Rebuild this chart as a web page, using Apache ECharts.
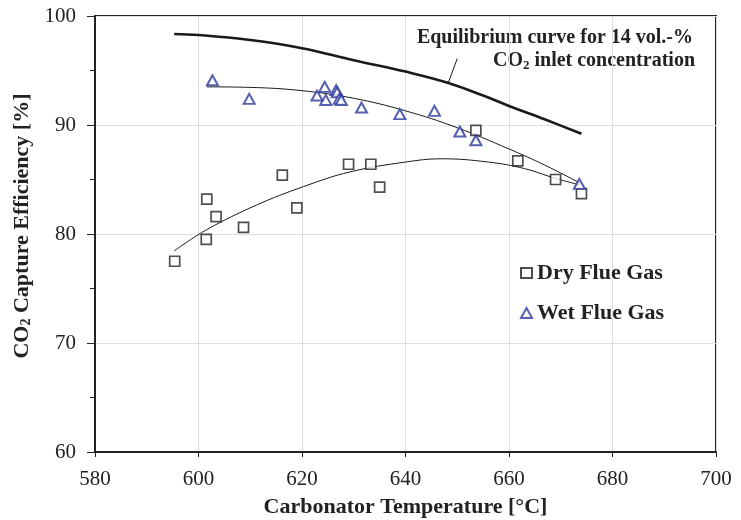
<!DOCTYPE html>
<html>
<head>
<meta charset="utf-8">
<script src="https://cdn.jsdelivr.net/npm/echarts@6/dist/echarts.min.js"></script>
<style>
  html, body { margin: 0; padding: 0; background: #fff; }
  #chart { width: 741px; height: 520px; }
</style>
</head>
<body>
<div id="chart"></div>
<script>
// measured points [temperature °C, capture efficiency %]
var dryGas = [
  [595.4, 77.5], [601.6, 83.2], [601.5, 79.5], [603.4, 81.6], [608.7, 80.6],
  [616.2, 85.4], [619.0, 82.4], [629.0, 86.4], [633.3, 86.4], [635.0, 84.3],
  [653.6, 89.5], [661.7, 86.7], [669.0, 85.0], [674.0, 83.7]
];
var wetGas = [
  [602.7, 94.1], [609.8, 92.4], [622.9, 92.7], [624.4, 93.5], [624.6, 92.3],
  [626.6, 93.2], [626.8, 93.0], [627.2, 92.4], [627.6, 92.3], [631.5, 91.6],
  [638.9, 91.0], [645.6, 91.3], [650.5, 89.4], [653.6, 88.6], [673.6, 84.6]
];
// curves
var equilibrium = [
  [595.3, 98.35], [600, 98.26], [610, 97.8], [620, 97.05], [630, 95.95],
  [640, 94.9], [648, 93.9], [655, 92.7], [660, 91.75], [667, 90.5], [674, 89.2]
];
var wetFit = [
  [601.6, 93.5], [610, 93.45], [620, 93.15], [630, 92.45], [640, 91.3],
  [650, 89.75], [660, 87.8], [667, 86.3], [674, 84.6]
];
var dryFit = [
  [595.3, 78.45], [601.6, 80.4], [611.2, 82.65], [620.3, 84.35], [629.3, 85.7],
  [640, 86.6], [647, 86.9], [656, 86.6], [663, 86.0], [669, 85.1], [673.7, 84.5]
];
var leader = [[648.3, 93.9], [650.0, 96.1]];

var serif = "Liberation Serif";
var blue = "#2b389e";
var ink = "#222";

var chart = echarts.init(document.getElementById("chart"));
chart.setOption({
  animation: false,
  grid: {
    left: 95, right: 25, top: 16, bottom: 68,
    outerBoundsMode: "none",
    show: true, borderColor: ink, borderWidth: 2, backgroundColor: "transparent"
  },
  legend: {
    orient: "vertical",
    left: 515, top: 257,
    itemGap: 18, itemWidth: 11, itemHeight: 10,
    data: ["Dry Flue Gas", "Wet Flue Gas"],
    textStyle: { fontFamily: serif, fontWeight: "bold", fontSize: 22, color: ink }
  },
  xAxis: {
    type: "value",
    min: 580, max: 700, interval: 20,
    name: "Carbonator Temperature [°C]",
    nameLocation: "middle", nameGap: 44,
    nameTextStyle: { fontFamily: serif, fontWeight: "bold", fontSize: 22, color: ink },
    axisLine: { lineStyle: { color: ink, width: 2 } },
    axisTick: { show: true, length: 5, lineStyle: { color: ink } },
    axisLabel: { fontFamily: serif, fontSize: 21, color: ink, margin: 17 },
    splitLine: { show: true, lineStyle: { color: "#dedede", width: 1 } }
  },
  yAxis: {
    type: "value",
    min: 60, max: 100, interval: 10,
    name: "{b|CO}{s|2}{b| Capture Efficiency [%]}",
    nameLocation: "middle", nameGap: 60, nameRotate: 90,
    nameTextStyle: {
      padding: [0, 0, 0, 16],
      rich: {
        b: { fontFamily: serif, fontWeight: "bold", fontSize: 22, color: ink },
        s: { fontFamily: serif, fontWeight: "bold", fontSize: 14, color: ink, padding: [9, 0, 0, 0] }
      }
    },
    axisLine: { show: true, lineStyle: { color: ink, width: 2 } },
    axisTick: { show: true, length: 8, lineStyle: { color: ink } },
    minorTick: { show: true, splitNumber: 2, length: 5, lineStyle: { color: ink } },
    axisLabel: { fontFamily: serif, fontSize: 21, color: ink, margin: 19 },
    splitLine: { show: true, lineStyle: { color: "#dedede", width: 1 } }
  },
  graphic: [
    {
      type: "text",
      right: 48, top: 28,
      style: {
        text: "Equilibrium curve for 14 vol.-%",
        fontFamily: serif, fontWeight: "bold", fontSize: 20, fill: ink
      }
    },
    {
      type: "text",
      right: 46, top: 51,
      style: {
        text: "{b|CO}{s|2}{b| inlet concentration}",
        rich: {
          b: { fontFamily: serif, fontWeight: "bold", fontSize: 20, fill: ink },
          s: { fontFamily: serif, fontWeight: "bold", fontSize: 13, fill: ink, padding: [10, 0, 0, 0] }
        }
      }
    }
  ],
  series: [
    {
      name: "equilibrium", type: "line", data: equilibrium, smooth: 0.4,
      showSymbol: false, silent: true,
      lineStyle: { color: "#1a1a1a", width: 2.6 }
    },
    {
      name: "leader", type: "line", data: leader, showSymbol: false, silent: true,
      lineStyle: { color: "#1a1a1a", width: 1 }
    },
    {
      name: "wetFit", type: "line", data: wetFit, smooth: 0.4,
      showSymbol: false, silent: true,
      lineStyle: { color: "#1a1a1a", width: 1 }
    },
    {
      name: "dryFit", type: "line", data: dryFit, smooth: 0.4,
      showSymbol: false, silent: true,
      lineStyle: { color: "#1a1a1a", width: 1 }
    },
    {
      name: "Dry Flue Gas", type: "scatter", data: dryGas,
      symbol: "rect", symbolSize: 10,
      itemStyle: { color: "#fff", borderColor: ink, borderWidth: 1.7 },
      z: 5
    },
    {
      name: "Wet Flue Gas", type: "scatter", data: wetGas,
      symbol: "triangle", symbolSize: [11, 10],
      itemStyle: { color: "#fff", borderColor: blue, borderWidth: 2 },
      z: 6
    }
  ]
});
</script>
</body>
</html>
